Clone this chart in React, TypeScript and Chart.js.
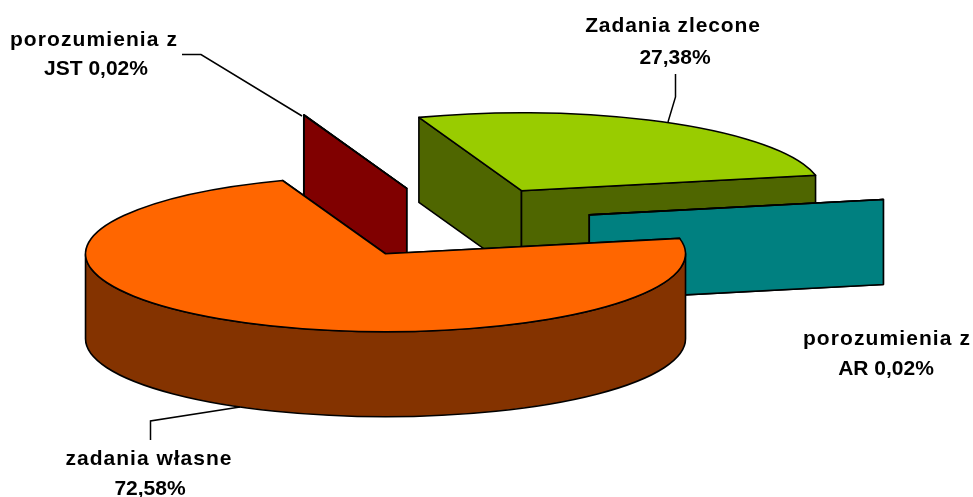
import React, { useEffect, useRef } from "react";
import { Chart, registerables } from "chart.js";

Chart.register(...registerables);

// Data
const categories = ["Zadania zlecone", "porozumienia z AR", "zadania własne", "porozumienia z JST"];
const shares = [27.38, 0.02, 72.58, 0.02];

// Styles
const topColors = ["#99CC00", "#008080", "#FF6600", "#800000"];
const wallColors = ["#4F6600", "#008080", "#843300", "#800000"];
const explode = [138, 138, 140, 138];
const TILT = 0.26;
const DEPTH = 85;
const RADIUS = 300;
const FONT = 'bold 21px "Liberation Sans", Arial, sans-serif';

// Annotation layout
const labelLines = [
  { text: "porozumienia z", x: 94, y: 40, spacing: 1.1 },
  { text: "JST 0,02%", x: 96, y: 69, spacing: 0 },
  { text: "Zadania zlecone", x: 673, y: 26, spacing: 0.9 },
  { text: "27,38%", x: 675, y: 58, spacing: 0 },
  { text: "porozumienia z", x: 887, y: 339, spacing: 1.1 },
  { text: "AR 0,02%", x: 886, y: 369, spacing: 0 },
  { text: "zadania własne", x: 149, y: 459, spacing: 1 },
  { text: "72,58%", x: 150, y: 489, spacing: 0 },
];
const leaders = [
  [[182, 54.5], [201, 54.5], [302, 116]],
  [[675.5, 74], [675.5, 97], [668, 122]],
  [[150.5, 440], [150.5, 421], [240, 407]],
];

const pie3d = {
  id: "pie3d",
  beforeDatasetsDraw(chart: any) {
    const ctx = chart.ctx;
    const arcs: any[] = chart.getDatasetMeta(0).data;
    const order = arcs
      .map((arc, i) => ({ arc, i, mid: (arc.startAngle + arc.endAngle) / 2 }))
      .sort((a, b) => Math.sin(a.mid) - Math.sin(b.mid));

    for (const { arc, i, mid } of order) {
      const r = arc.outerRadius;
      const ax = arc.x + Math.cos(mid) * explode[i];
      const ay = arc.y + Math.sin(mid) * explode[i] * TILT;
      ctx.save();
      ctx.lineWidth = 1.6;
      ctx.lineJoin = "round";
      ctx.strokeStyle = "#000";

      const wall = (angle: number) => {
        const px = ax + Math.cos(angle) * r;
        const py = ay + Math.sin(angle) * r * TILT;
        ctx.beginPath();
        ctx.moveTo(ax, ay);
        ctx.lineTo(px, py);
        ctx.lineTo(px, py + DEPTH);
        ctx.lineTo(ax, ay + DEPTH);
        ctx.closePath();
        ctx.fillStyle = wallColors[i];
        ctx.fill();
        ctx.stroke();
      };
      wall(arc.startAngle);
      wall(arc.endAngle);

      const from = Math.max(arc.startAngle, 0);
      const to = Math.min(arc.endAngle, Math.PI);
      if (to > from) {
        ctx.beginPath();
        ctx.ellipse(ax, ay, r, r * TILT, 0, from, to);
        ctx.ellipse(ax, ay + DEPTH, r, r * TILT, 0, to, from, true);
        ctx.closePath();
        ctx.fillStyle = wallColors[i];
        ctx.fill();
        ctx.stroke();
      }

      // Top face: the library's own arc, squashed into perspective.
      ctx.save();
      ctx.translate(ax, ay);
      ctx.scale(1, TILT);
      ctx.translate(-arc.x, -arc.y);
      arc.draw(ctx);
      ctx.restore();

      ctx.beginPath();
      ctx.moveTo(ax, ay);
      ctx.ellipse(ax, ay, r, r * TILT, 0, arc.startAngle, arc.endAngle);
      ctx.closePath();
      ctx.stroke();
      ctx.restore();
    }
    return false;
  },
  afterDraw(chart: any) {
    const ctx = chart.ctx;
    ctx.save();
    ctx.strokeStyle = "#000";
    ctx.lineWidth = 1.5;
    for (const pts of leaders) {
      ctx.beginPath();
      pts.forEach(([x, y], i) => (i ? ctx.lineTo(x, y) : ctx.moveTo(x, y)));
      ctx.stroke();
    }
    ctx.fillStyle = "#000";
    ctx.font = FONT;
    ctx.textAlign = "center";
    ctx.textBaseline = "middle";
    for (const l of labelLines) {
      (ctx as any).letterSpacing = `${l.spacing}px`;
      ctx.fillText(l.text, l.x, l.y);
    }
    ctx.restore();
  },
};

export default function App() {
  const ref = useRef<HTMLCanvasElement>(null);
  useEffect(() => {
    const chart = new Chart(ref.current!, {
      type: "pie",
      data: {
        labels: categories,
        datasets: [{ data: shares, backgroundColor: topColors, borderWidth: 0 }],
      },
      options: {
        animation: false,
        responsive: false,
        rotation: -20,
        radius: RADIUS,
        layout: { padding: { right: 65, bottom: 53 } },
        plugins: { legend: { display: false }, tooltip: { enabled: false } },
      },
      plugins: [pie3d],
    } as any);
    return () => chart.destroy();
  }, []);
  return (
    <canvas
      ref={ref}
      width={973}
      height={497}
      style={{ position: "fixed", left: 0, top: 0, display: "block" }}
    />
  );
}
